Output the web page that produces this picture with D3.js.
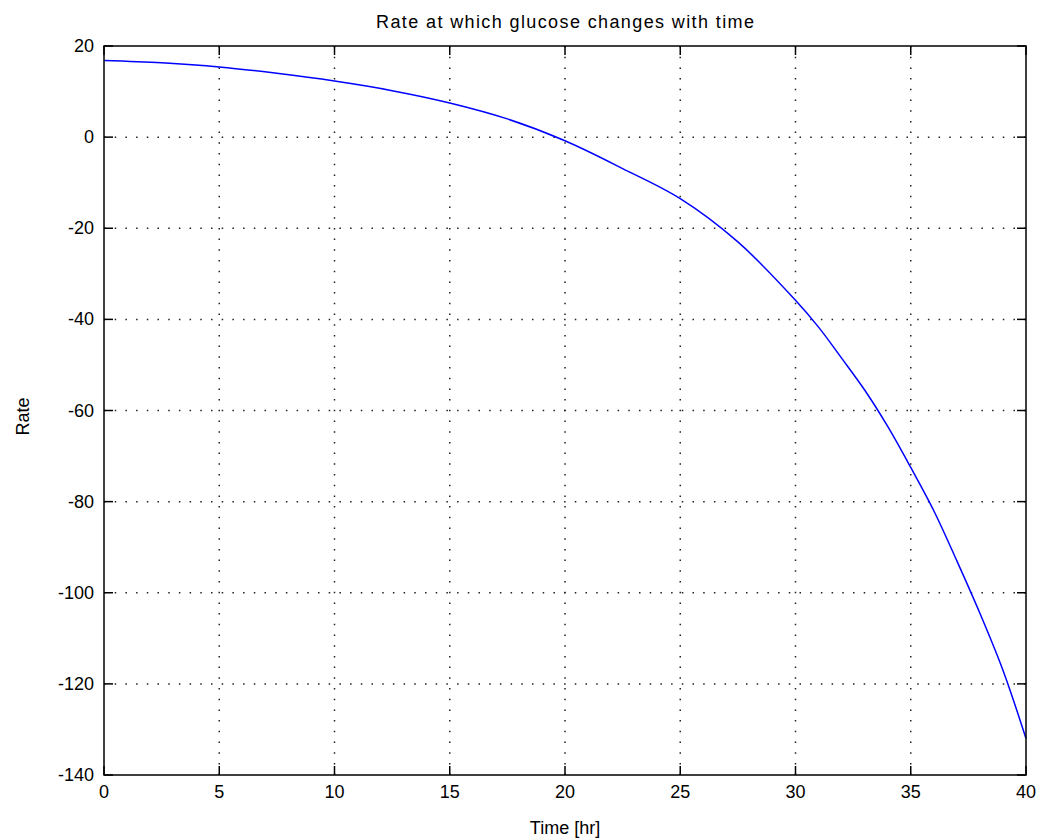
<!DOCTYPE html>
<html>
<head>
<meta charset="utf-8">
<script src="https://cdn.jsdelivr.net/npm/d3@7"></script>
<style>
  html, body { margin: 0; padding: 0; background: #fff; }
  text { font-family: "Liberation Sans", Arial, sans-serif; fill: #000; }
</style>
</head>
<body>
<div id="chart"></div>
<script>
// ── Data ────────────────────────────────────────────────────────────────────
const timeHr = [0, 2.5, 5, 7.5, 10, 12.5, 15, 17.5, 20, 22.5, 25, 27.5, 30, 31, 32, 33, 34, 35, 36, 37, 38, 39, 40];
const rate   = [16.8, 16.3, 15.4, 14.0, 12.3, 10.2, 7.5, 4.0, -0.8, -6.9, -13.5, -23.0, -35.8, -41.7, -48.5, -55.5, -63.5, -72.5, -82, -93, -104.5, -117, -132];
const xTicks = [0, 5, 10, 15, 20, 25, 30, 35, 40];
const yTicks = [20, 0, -20, -40, -60, -80, -100, -120, -140];

const titleText = "Rate at which glucose changes with time";
const xLabel = "Time [hr]";
const yLabel = "Rate";

// ── Layout ──────────────────────────────────────────────────────────────────
const width = 1039, height = 838;
const plot = { left: 104, right: 1026, top: 46, bottom: 775 };
const tickLen = 9;

const svg = d3.select("#chart").append("svg").attr("width", width).attr("height", height);

const x = d3.scaleLinear().domain([0, 40]).range([plot.left, plot.right]);
const y = d3.scaleLinear().domain([-140, 20]).range([plot.bottom, plot.top]);

// ── Grid ────────────────────────────────────────────────────────────────────
const grid = svg.append("g").attr("class", "grid")
  .attr("stroke", "#222").attr("stroke-width", 1.5).attr("stroke-dasharray", "1.5,9.2");

grid.selectAll("line.vx")
  .data(xTicks.filter(d => d > 0 && d < 40)).join("line")
  .attr("x1", d => x(d)).attr("x2", d => x(d))
  .attr("y1", plot.top).attr("y2", plot.bottom);

grid.selectAll("line.hy")
  .data(yTicks.filter(d => d < 20 && d > -140)).join("line")
  .attr("x1", plot.left).attr("x2", plot.right)
  .attr("y1", d => y(d)).attr("y2", d => y(d));

// ── Curve ───────────────────────────────────────────────────────────────────
const line = d3.line()
  .x((d, i) => x(timeHr[i]))
  .y(d => y(d))
  .curve(d3.curveCatmullRom.alpha(0.5));

svg.append("path")
  .attr("d", line(rate))
  .attr("fill", "none")
  .attr("stroke", "#0000ff")
  .attr("stroke-width", 1.5);

// ── Axes box & ticks ────────────────────────────────────────────────────────
const axes = svg.append("g").attr("stroke", "#000").attr("stroke-width", 1.5);

axes.append("rect")
  .attr("x", plot.left).attr("y", plot.top)
  .attr("width", plot.right - plot.left).attr("height", plot.bottom - plot.top)
  .attr("fill", "none");

xTicks.forEach(t => {
  axes.append("line").attr("x1", x(t)).attr("x2", x(t)).attr("y1", plot.bottom).attr("y2", plot.bottom - tickLen);
  axes.append("line").attr("x1", x(t)).attr("x2", x(t)).attr("y1", plot.top).attr("y2", plot.top + tickLen);
});
yTicks.forEach(t => {
  axes.append("line").attr("x1", plot.left).attr("x2", plot.left + tickLen).attr("y1", y(t)).attr("y2", y(t));
  axes.append("line").attr("x1", plot.right).attr("x2", plot.right - tickLen).attr("y1", y(t)).attr("y2", y(t));
});

// ── Tick labels ─────────────────────────────────────────────────────────────
svg.append("g").selectAll("text")
  .data(xTicks).join("text")
  .attr("x", d => x(d)).attr("y", plot.bottom + 23)
  .attr("text-anchor", "middle")
  .attr("font-size", "18px")
  .text(d => d);

svg.append("g").selectAll("text")
  .data(yTicks).join("text")
  .attr("x", plot.left - 10).attr("y", d => y(d) + 6)
  .attr("text-anchor", "end")
  .attr("font-size", "18px")
  .text(d => d);

// ── Titles ──────────────────────────────────────────────────────────────────
svg.append("text")
  .attr("x", (plot.left + plot.right) / 2).attr("y", 28)
  .attr("text-anchor", "middle").attr("font-size", "18px")
  .attr("textLength", 378).attr("lengthAdjust", "spacing")
  .text(titleText);

svg.append("text")
  .attr("x", (plot.left + plot.right) / 2).attr("y", 834)
  .attr("text-anchor", "middle").attr("font-size", "18px")
  .text(xLabel);

svg.append("text")
  .attr("transform", `translate(29, ${(plot.top + plot.bottom) / 2 + 6}) rotate(-90)`)
  .attr("text-anchor", "middle").attr("font-size", "18px")
  .text(yLabel);
</script>
</body>
</html>
